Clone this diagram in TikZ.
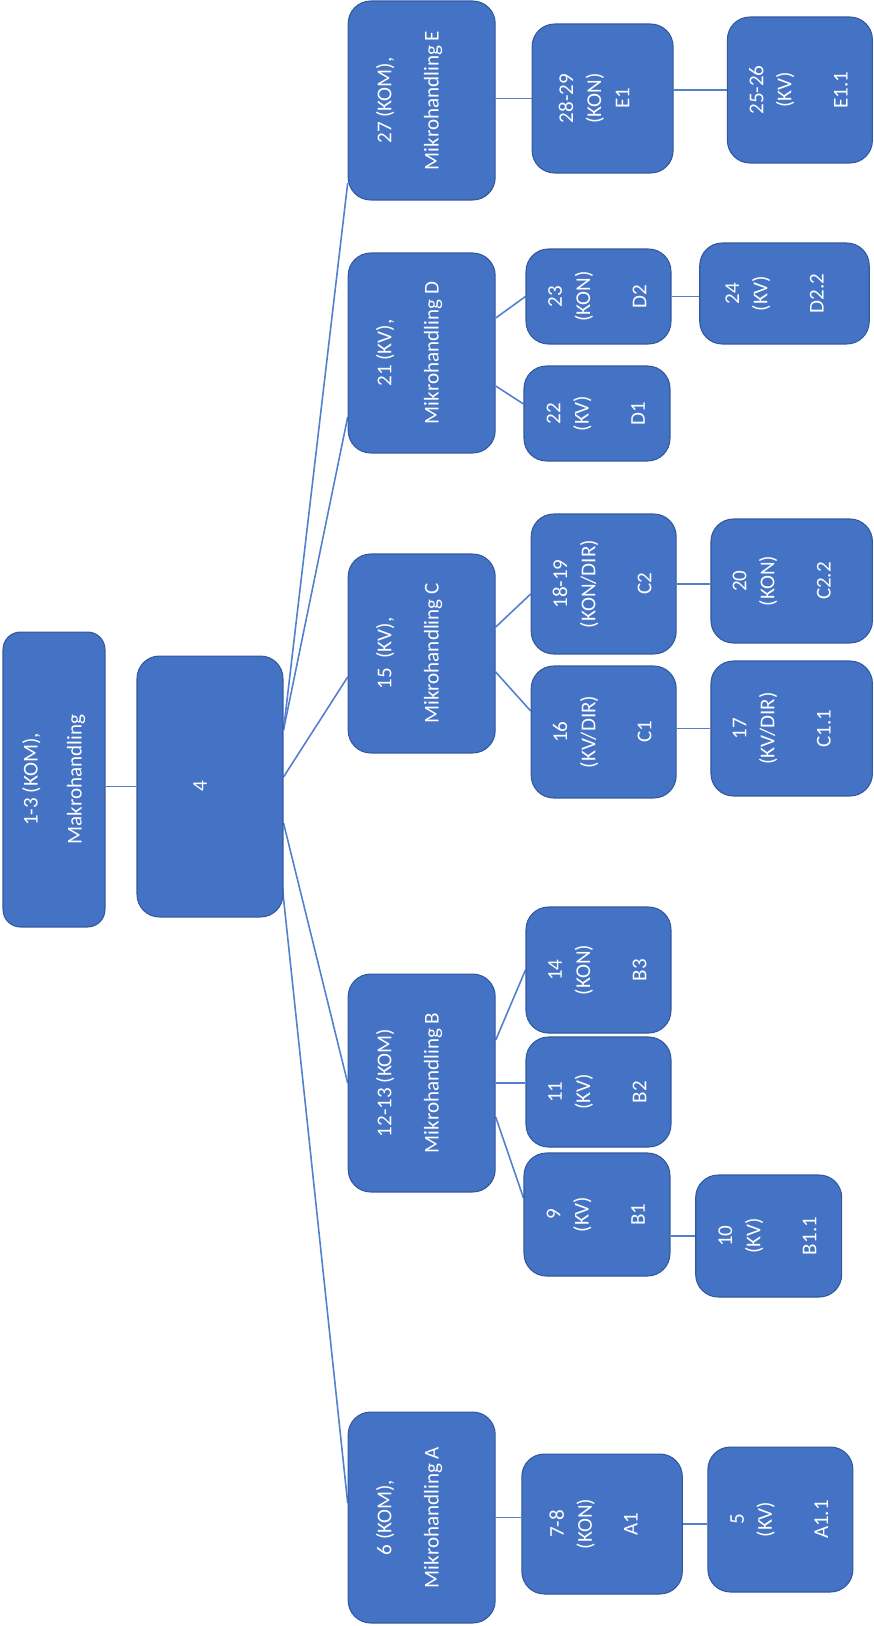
\documentclass[tikz,border=0pt]{standalone}
\usepackage{fontspec}
\setmainfont{Carlito}
\usetikzlibrary{calc,backgrounds}
\definecolor{boxblue}{RGB}{68,114,196}
\definecolor{boxedge}{RGB}{50,88,158}
\definecolor{linkblue}{RGB}{82,128,208}
% text of a box, set upright then turned a quarter
\newcommand{\vtext}[1]{\rotatebox{90}{\begin{tabular}{@{}c@{}}#1\end{tabular}}}
\tikzset{
  box/.style={draw=boxedge,fill=boxblue,line width=0.6pt,rounded corners=0.45cm,
    text=white,inner sep=0pt,font=\fontsize{12}{16}\selectfont},
  link/.style={draw=linkblue,line width=0.9pt}
}
\begin{document}
\begin{tikzpicture}[x=0.02cm,y=-0.02cm]
\useasboundingbox (0,0) rectangle (874,1626);
% top level
\node[box,rounded corners=0.35cm,minimum width=2.04cm,minimum height=5.9cm] (root) at (54,779.5) {\vtext{1-3 (KOM),\\[9pt]Makrohandling}};
\node[box,minimum width=2.92cm,minimum height=5.22cm] (four) at (210,786.5) {\vtext{4\\[10pt]}};
% Mikrohandling E
\node[box,minimum width=2.94cm,minimum height=3.98cm] (E) at (421.7,100.5) {\vtext{27 (KOM),\\[11pt]Mikrohandling E\\[14pt]}};
\node[box,minimum width=2.82cm,minimum height=2.98cm] (E1) at (602.6,98.5) {\vtext{28-29\\(KON)\\E1\\[8pt]}};
\node[box,minimum width=2.9cm,minimum height=2.92cm] (E11) at (799.9,90) {\vtext{25-26\\(KV)\\ \\E1.1}};
% Mikrohandling D
\node[box,minimum width=2.94cm,minimum height=4cm] (D) at (421.7,353) {\vtext{21 (KV),\\[11pt]Mikrohandling D\\[14pt]}};
\node[box,minimum width=2.9cm,minimum height=1.9cm] (D2) at (598.5,296.5) {\vtext{23\\(KON)\\ \\D2}};
\node[box,minimum width=3.39cm,minimum height=2.02cm] (D22) at (784.5,293.5) {\vtext{24\\(KV)\\ \\D2.2\\[10pt]}};
\node[box,minimum width=2.92cm,minimum height=1.9cm] (D1) at (597,413.5) {\vtext{22\\(KV)\\ \\D1}};
% Mikrohandling C
\node[box,minimum width=2.94cm,minimum height=3.98cm] (C) at (421.7,653.5) {\vtext{15\ \ (KV),\\[11pt]Mikrohandling C\\[14pt]}};
\node[box,minimum width=2.9cm,minimum height=2.8cm] (C2) at (603.7,584) {\vtext{18-19\\(KON/DIR)\\ \\C2}};
\node[box,minimum width=3.23cm,minimum height=2.48cm] (C22) at (791.7,581) {\vtext{20\\(KON)\\ \\C2.2\\[10pt]}};
\node[box,minimum width=2.9cm,minimum height=2.64cm] (C1) at (603.7,732) {\vtext{16\\(KV/DIR)\\ \\C1}};
\node[box,minimum width=3.23cm,minimum height=2.7cm] (C11) at (791.7,728.5) {\vtext{17\\(KV/DIR)\\ \\C1.1\\[10pt]}};
% Mikrohandling B
\node[box,minimum width=2.94cm,minimum height=4.36cm] (B) at (421.7,1083) {\vtext{12-13 (KOM)\\[11pt]Mikrohandling B\\[14pt]}};
\node[box,minimum width=2.9cm,minimum height=2.52cm] (B3) at (598.5,970) {\vtext{14\\(KON)\\ \\B3}};
\node[box,minimum width=2.9cm,minimum height=2.2cm] (B2) at (598.5,1092) {\vtext{11\\(KV)\\ \\B2}};
\node[box,minimum width=2.92cm,minimum height=2.46cm] (B1) at (597,1214.5) {\vtext{9\\(KV)\\ \\B1}};
\node[box,minimum width=2.92cm,minimum height=2.44cm] (B11) at (768.7,1236) {\vtext{10\\(KV)\\ \\B1.1}};
% Mikrohandling A
\node[box,minimum width=2.94cm,minimum height=4.22cm] (A) at (421.7,1517.5) {\vtext{6 (KOM),\\[11pt]Mikrohandling A\\[14pt]}};
\node[box,minimum width=3.21cm,minimum height=2.8cm] (A1) at (602.1,1524) {\vtext{7-8\\(KON)\\[10pt]A1\\[8pt]}};
\node[box,minimum width=2.9cm,minimum height=2.9cm] (A11) at (780.4,1519.5) {\vtext{5\\(KV)\\ \\A1.1}};
% connectors, behind the boxes
\begin{pgfonlayer}{background}
\draw[link] (root.east |- four.west) -- (four.west);
\draw[link] ($(four.east)+(0,-56.5)$) -- ($(E.west)+(0,82.5)$);
\draw[link] ($(four.east)+(0,-56.5)$) -- ($(D.west)+(0,64)$);
\draw[link] ($(four.east)+(0,-9.5)$) -- ($(C.west)+(0,23.5)$);
\draw[link] ($(four.east)+(0,36.5)$) -- (B.west);
\draw[link] ($(four.east)+(-3,83.5)$) -- ($(A.west)+(0,-14.5)$);
\draw[link] (E.east |- E1.west) -- (E1.west);
\draw[link] (E1.east |- E11.west) -- (E11.west);
\draw[link] ($(D.east)+(0,-35)$) -- (D2.west);
\draw[link] ($(D.east)+(0,33)$) -- ($(D1.west)+(0,-9.5)$);
\draw[link] (D2.east) -- (D2.east -| D22.west);
\draw[link] ($(C.east)+(0,-26.5)$) -- ($(C2.west)+(0,10)$);
\draw[link] ($(C.east)+(0,18.5)$) -- ($(C1.west)+(0,-21)$);
\draw[link] (C2.east) -- (C2.east -| C22.west);
\draw[link] (C1.east |- C11.west) -- (C11.west);
\draw[link] ($(B.east)+(0,-43)$) -- (B3.west);
\draw[link] (B.east) -- (B.east -| B2.west);
\draw[link] ($(B.east)+(0,34)$) -- ($(B1.west)+(0,-16.5)$);
\draw[link] (B1.east |- B11.west) -- (B11.west);
\draw[link] (A.east) -- (A.east -| A1.west);
\draw[link] (A1.east) -- (A1.east -| A11.west);
\end{pgfonlayer}
\end{tikzpicture}
\end{document}
